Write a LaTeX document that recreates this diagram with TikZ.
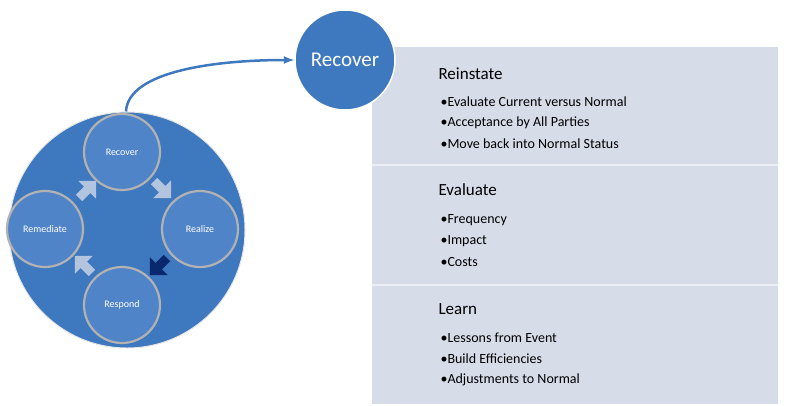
\documentclass[tikz,border=0pt]{standalone}
\usepackage{fontspec}
\setmainfont{Carlito}
\usetikzlibrary{shapes.arrows,positioning}
\definecolor{ringblue}{RGB}{62,120,190}
\definecolor{stepblue}{RGB}{80,132,200}
\definecolor{panelgray}{RGB}{214,221,233}
\definecolor{sepgray}{RGB}{235,238,244}
\definecolor{darkarrow}{RGB}{10,40,110}
\definecolor{lightarrow}{RGB}{178,196,222}
\tikzset{
  phase/.style={circle,draw=gray!60,line width=2.2pt,fill=stepblue,minimum size=76pt,
    text=white,font=\fontsize{10}{11}\selectfont,inner sep=0pt},
  flow/.style={single arrow,fill=lightarrow,minimum height=24pt,minimum width=25pt,
    single arrow head extend=3pt,inner sep=1.5pt},
  head/.style={anchor=west,font=\fontsize{17}{19}\selectfont},
  item/.style={anchor=west,font=\fontsize{14}{16}\selectfont}
}
\begin{document}
\begin{tikzpicture}[x=1pt,y=-1pt]
  \useasboundingbox (0,0) rectangle (800,405);
  \fill[panelgray] (372,47) rectangle (778,404);
  \draw[sepgray,line width=1.5pt] (372,165) -- (778,165);
  \draw[sepgray,line width=1.5pt] (372,285) -- (778,285);
  \node[circle,fill=ringblue,draw=white!80!gray,line width=1pt,minimum size=236pt] (ring) at (127,230) {};
  \node[phase] (recover) at (122,152) {Recover};
  \node[phase] (realize) at (200,229) {Realize};
  \node[phase] (respond) at (122,305) {Respond};
  \node[phase] (remediate) at (45,229) {Remediate};
  \node[flow,rotate=-45] (a1) at (161,188) {};
  \node[flow,rotate=-135,fill=darkarrow] (a2) at (160,265) {};
  \node[flow,rotate=135] (a3) at (85,266) {};
  \node[flow,rotate=45] (a4) at (86,191) {};
  \node[circle,fill=ringblue,draw=white,line width=1.5pt,minimum size=100pt,text=white,
    font=\fontsize{21}{23}\selectfont] (big) at (345,60) {Recover};
  \draw[ringblue,line width=2.5pt,-latex] (ring.north) ++(-1,0) coordinate (start)
    .. controls (128,70) and (220,60) .. (big.west);
  % panel text
  \node[head] (h1) at (435,74) {Reinstate};
  \node[item] at (437,102) {•Evaluate Current versus Normal};
  \node[item] at (437,123) {•Acceptance by All Parties};
  \node[item] at (437,144) {•Move back into Normal Status};
  \node[head] (h2) at (435,190) {Evaluate};
  \node[item] at (437,220) {•Frequency};
  \node[item] at (437,241) {•Impact};
  \node[item] at (437,262) {•Costs};
  \node[head] (h3) at (435,309) {Learn};
  \node[item] at (437,338) {•Lessons from Event};
  \node[item] at (437,359) {•Build Efficiencies};
  \node[item] at (437,380) {•Adjustments to Normal};
\end{tikzpicture}
\end{document}
